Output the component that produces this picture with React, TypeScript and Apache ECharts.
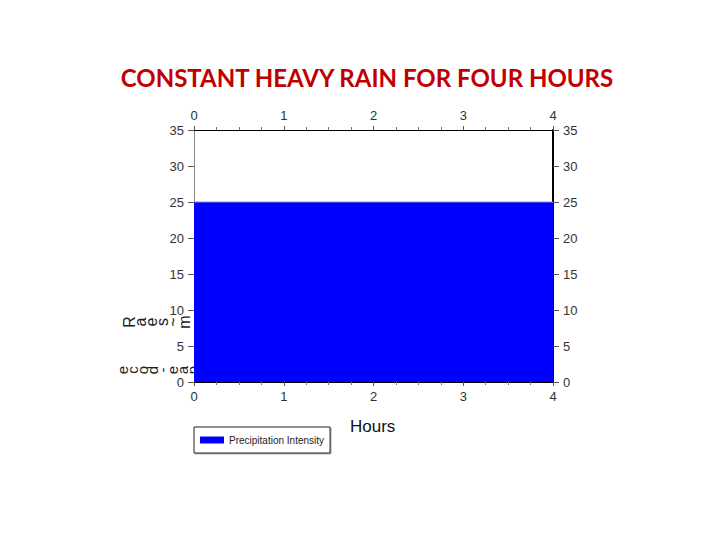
import React, { useEffect, useRef } from "react";
import * as echarts from "echarts";

const titleText = "CONSTANT HEAVY RAIN FOR FOUR HOURS";
const seriesName = "Precipitation Intensity";
const hours = [0, 4];
const intensity = [25, 25];
const xTicks = [0, 1, 2, 3, 4];
const yMax = 35;
const yStep = 5;
const xLabel = "Hours";
const garbledRow1 = ["R", "a", "e", "s", "~", "m"];
const garbledRow2 = ["e", "c", "o", "d", "-", "e", "a", "p"];

export default function App() {
  const ref = useRef<HTMLDivElement>(null);
  useEffect(() => {
    if (!ref.current) return;
    const chart = echarts.init(ref.current, null, { renderer: "svg" });
    const axisFont = { fontFamily: "Liberation Sans, Arial, sans-serif", fontSize: 13, color: "#333" };
    const xCommon = {
      type: "value" as const,
      min: xTicks[0],
      max: xTicks[xTicks.length - 1],
      interval: 1,
      splitLine: { show: false },
      axisTick: { show: true, length: 4, lineStyle: { color: "#555" } },
      minorTick: { show: true, splitNumber: 4, length: 3, lineStyle: { color: "#777" } },
      axisLabel: { ...axisFont, margin: 8 },
    };
    const yCommon = {
      type: "value" as const,
      min: 0,
      max: yMax,
      interval: yStep,
      splitLine: { show: false },
      axisTick: { show: true, length: 6, lineStyle: { color: "#555" } },
      axisLabel: { ...axisFont, margin: 10 },
    };
    const g1 = garbledRow1.map((c, i) => ({
      type: "text" as const,
      x: 129 + i * 11,
      y: 322,
      rotation: Math.PI / 2,
      style: { text: c, font: "16px Liberation Sans", fill: "#222", align: "center", verticalAlign: "middle" },
    }));
    const g2 = garbledRow2.map((c, i) => ({
      type: "text" as const,
      x: 122 + i * 10,
      y: 370,
      rotation: Math.PI / 2,
      style: { text: c, font: "15px Liberation Sans", fill: "#222", align: "center", verticalAlign: "middle" },
    }));
    chart.setOption({
      animation: false,
      backgroundColor: "#fff",
      title: {
        text: titleText,
        left: 362,
        textAlign: "center",
        top: 60,
        textStyle: { fontFamily: "Lato, sans-serif", fontWeight: "bold", fontSize: 24, color: "#C00000" },
      },
      grid: { left: 194, top: 130, width: 359, height: 252 },
      xAxis: [
        { ...xCommon, position: "bottom", axisLine: { onZero: false, lineStyle: { color: "#000", width: 1 } } },
        { ...xCommon, position: "top", axisLine: { onZero: false, lineStyle: { color: "#000", width: 1 } } },
      ],
      yAxis: [
        { ...yCommon, position: "left", axisLine: { show: true, onZero: false, lineStyle: { color: "#888", width: 1 } } },
        { ...yCommon, position: "right", axisLine: { show: true, onZero: false, lineStyle: { color: "#000", width: 2 } } },
      ],
      legend: {
        left: 194,
        top: 427,
        orient: "horizontal",
        data: [{ name: seriesName, icon: "rect" }],
        itemWidth: 24,
        itemHeight: 7,
        itemGap: 5,
        padding: [8, 6, 8, 6],
        borderColor: "#222",
        borderWidth: 1,
        shadowColor: "rgba(0,0,0,0.3)",
        shadowOffsetX: 1,
        shadowOffsetY: 1,
        backgroundColor: "#fff",
        textStyle: { fontFamily: "Liberation Sans, Arial", fontSize: 10, color: "#222" },
      },
      series: [
        {
          name: seriesName,
          type: "line",
          xAxisIndex: 0,
          yAxisIndex: 0,
          data: hours.map((h, i) => [h, intensity[i]]),
          symbol: "none",
          color: "#0000FF",
          lineStyle: { color: "#8a8aff", width: 1 },
          areaStyle: { color: "#0000FF", opacity: 1 },
          z: 1,
        },
      ],
      graphic: [
        {
          type: "text",
          left: 350,
          top: 418,
          style: { text: xLabel, font: "17px Liberation Sans", fill: "#111" },
        },
        ...g1,
        ...g2,
      ],
    });
    return () => chart.dispose();
  }, []);
  return (
    <div
      ref={ref}
      style={{ position: "fixed", left: 0, top: 0, width: 720, height: 540 }}
    />
  );
}
